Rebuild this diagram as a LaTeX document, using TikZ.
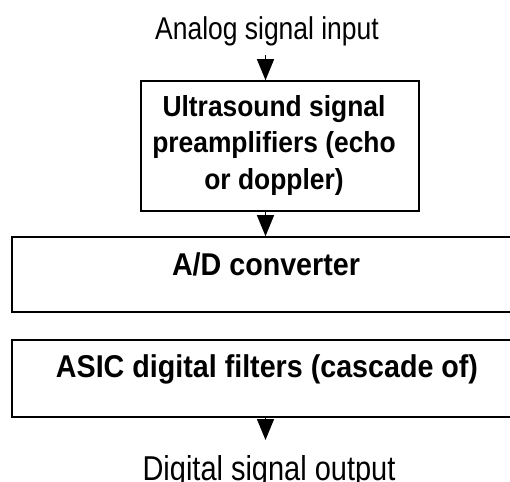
\documentclass[tikz,border=0pt]{standalone}
\usepackage{fontspec}
\setmainfont{Liberation Sans}[FakeStretch=0.84]
\newfontfamily\bnar{Liberation Sans}[FakeStretch=0.91]
\usetikzlibrary{arrows.meta}
\tikzset{
  blk/.style={draw, line width=1.6pt, rectangle, inner sep=0pt},
  plain/.style={font=\fontsize{31.5}{31.5}\selectfont, inner sep=0pt, anchor=base},
  bold/.style={font=\bnar\fontsize{29}{36.5}\selectfont\bfseries, inner sep=0pt, anchor=base, align=center},
  boldbig/.style={font=\bnar\fontsize{31.5}{31.5}\selectfont\bfseries, inner sep=0pt, anchor=base},
  arr/.style={line width=1.3pt, -{Triangle[length=21pt,width=17pt]}}
}
\begin{document}
\begin{tikzpicture}[x=1pt,y=-1pt]
\clip (0,0) rectangle (510,481);
\fill[white] (0,0) rectangle (510,481);
% boxes
\node[blk, minimum width=278pt, minimum height=130pt] (pre) at (280,146) {};
\node[blk, minimum width=518pt, minimum height=75pt] (ad) at (271,274.5) {};
\node[blk, minimum width=518pt, minimum height=77pt] (asic) at (271,378.5) {};
% texts
\node[plain] (in) at (267,40) {Analog signal input};
\node[bold] (pretext) at (274,189) {Ultrasound signal\\preamplifiers (echo\\or doppler)};
\node[boldbig] (adtext) at (266,275) {A/D converter};
\node[boldbig] (asictext) at (267,377) {ASIC digital filters (cascade of)};
\node[plain, font=\fontsize{34.5}{34.5}\selectfont] (out) at (269,480) {Digital signal output};
% connectors
\coordinate (instart) at (265.5,55);
\coordinate (outend) at (265.5,440);
\draw[arr] (instart) -- (instart |- pre.north);
\draw[arr] (pre.south -| instart) -- (ad.north -| instart);
\draw[arr] (asic.south -| instart) -- (outend);
\end{tikzpicture}
\end{document}
